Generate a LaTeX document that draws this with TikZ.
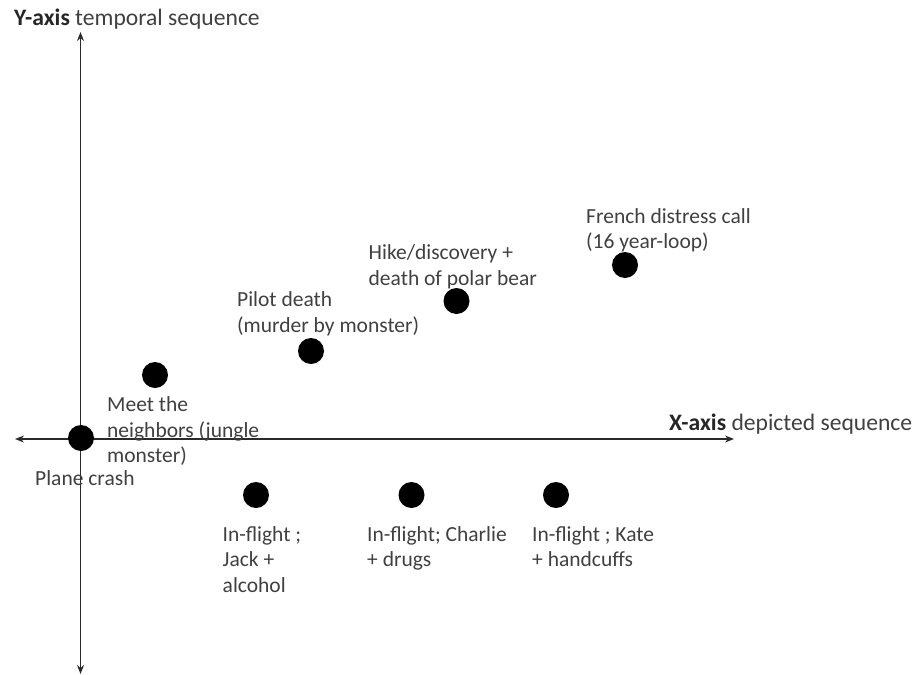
\documentclass[tikz,border=0pt]{standalone}
\usepackage{fontspec}
\setmainfont{Carlito}
\usetikzlibrary{arrows.meta}
\definecolor{txt}{HTML}{404040}
\definecolor{axis}{HTML}{2A2A2A}
\begin{document}
\begin{tikzpicture}[x=1pt,y=-1pt,
  dot/.style={circle,fill=black,minimum size=26pt,inner sep=0pt},
  lbl/.style={anchor=base west,align=left,inner sep=0pt,text=txt,font=\fontsize{21.5}{25.3}\selectfont},
  axislbl/.style={anchor=base west,inner sep=0pt,text=txt,font=\fontsize{23.6}{28}\selectfont},
  axisline/.style={draw=axis,line width=1.4pt,{Stealth[length=9pt,width=7pt]}-{Stealth[length=9pt,width=7pt]}}]
\useasboundingbox (0,0) rectangle (919,675);
% axes
\coordinate (yt) at (80.5,32);
\coordinate (yb) at (80.5,674);
\coordinate (xl) at (15,439);
\coordinate (xr) at (734,439);
\draw[axisline] (yb) -- (yt);
\draw[axisline] (xl) -- (xr);
\node[axislbl] (ylab) at (14,25.5) {\textbf{\color{black!85}Y-axis} temporal sequence};
\node[axislbl] (xlab) at (669,430) {\textbf{\color{black!85}X-axis} depicted sequence};
% dots
\node[dot] (d0) at (81,438) {};
\node[dot] (d1) at (155,375) {};
\node[dot] (d2) at (311,351) {};
\node[dot] (d3) at (456.5,301) {};
\node[dot] (d4) at (625,265) {};
\node[dot] (d5) at (256,495) {};
\node[dot] (d6) at (411.5,495) {};
\node[dot] (d7) at (556,495) {};
% labels (anchored at the baseline of their last line)
\node[lbl] (l0) at (35,485) {Plane crash};
\node[lbl] (l1) at (107,462.5) {Meet the\\neighbors (jungle\\monster)};
\node[lbl] (l2) at (237,332) {Pilot death\\(murder by monster)};
\node[lbl] (l3) at (368.5,285) {Hike/discovery +\\death of polar bear};
\node[lbl] (l4) at (586,248.5) {French distress call\\(16 year-loop)};
\node[lbl] (l5) at (222.5,592) {In-flight ;\\Jack +\\alcohol};
\node[lbl] (l6) at (367,566.5) {In-flight; Charlie\\+ drugs};
\node[lbl] (l7) at (532,566.5) {In-flight ; Kate\\+ handcuffs};
\end{tikzpicture}
\end{document}
